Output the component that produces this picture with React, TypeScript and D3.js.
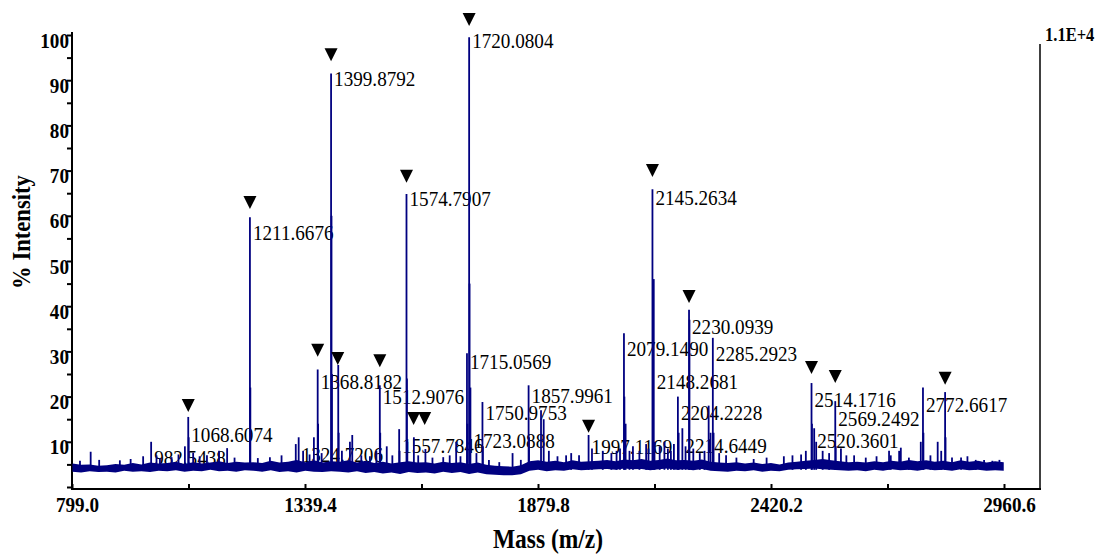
import React, { useEffect, useRef } from 'react';
import * as d3 from 'd3';

// spectrum peaks (m/z, % intensity)
const peakMass = [
  817.5, 842.3, 862, 910, 935, 964, 982.5438, 995, 1003, 1030, 1046, 1060.8, 1068.6074, 1069.6, 1080, 1095,
  1112, 1140, 1158.8, 1176, 1211.6676, 1212.67, 1230, 1258, 1285, 1318, 1324.7206, 1335, 1350, 1360,
  1368.8182, 1369.82, 1378, 1399.8792, 1400.88, 1401.88, 1416.5, 1417.5, 1425, 1443.6, 1449, 1470, 1490,
  1505, 1512.9076, 1513.91, 1529, 1542, 1557.7846, 1558.79, 1574.7907, 1575.79, 1576.79, 1591.9, 1602,
  1618.7, 1635, 1660, 1675, 1690, 1700, 1715.0569, 1716.06, 1720.0804, 1721.08, 1723.0888, 1737,
  1750.9753, 1752, 1766, 1790, 1820.8, 1840, 1857.9961, 1859, 1886.8, 1893, 1905, 1925, 1945, 1956.8,
  1975, 1997.1169, 2005, 2030, 2050, 2062, 2070, 2079.149, 2080.15, 2083, 2092, 2100, 2115, 2130.6, 2136,
  2145.2634, 2148.2681, 2150, 2162, 2173, 2181, 2188, 2195, 2204.2228, 2206, 2214.6449, 2222, 2230.0939,
  2231.1, 2240, 2255, 2266, 2275.6, 2280, 2285.2923, 2287, 2300, 2316, 2340, 2380, 2410, 2450, 2470, 2490,
  2501, 2514.1716, 2515.2, 2520.3601, 2525, 2540, 2555, 2569.2492, 2570.3, 2582.4, 2595, 2613, 2640,
  2665, 2694, 2698, 2717.4, 2721.3, 2740, 2767.6, 2772.6617, 2773.7, 2790, 2806.8, 2815, 2824, 2825,
  2840, 2861, 2875.8, 2895, 2914.4, 2933.6, 2950,
];
const peakInt = [
  5.8, 7.8, 6.0, 5.9, 6.2, 6.8, 10.0, 7.0, 6.4, 6.6, 7.2, 9.0, 15.5, 11.0, 7.6, 6.8,
  7.0, 8.0, 8.6, 6.5, 59.7, 22.0, 6.4, 6.6, 7.0, 9.5, 11.0, 8.0, 7.2, 11.0,
  26.0, 14.0, 7.5, 91.5, 60.0, 25.0, 27.0, 12.0, 8.0, 10.0, 11.5, 7.0, 6.8,
  8.0, 22.5, 12.0, 9.0, 7.0, 12.8, 8.0, 64.8, 24.0, 10.0, 11.0, 7.0,
  8.4, 6.5, 6.6, 7.0, 10.0, 6.8, 29.6, 14.0, 99.5, 45.0, 22.0, 7.5,
  18.8, 9.0, 6.0, 5.5, 7.5, 6.0, 22.5, 11.0, 17.0, 15.0, 8.0, 6.8, 7.0, 7.5,
  7.0, 11.5, 8.5, 8.0, 7.5, 8.0, 8.5, 34.0, 20.0, 14.0, 8.0, 9.0, 8.0, 9.5, 8.5,
  65.9, 46.0, 10.0, 9.0, 10.0, 8.5, 8.0, 9.5, 20.0, 12.0, 13.0, 9.0, 39.2,
  37.0, 8.5, 7.5, 8.0, 18.0, 12.0, 33.0, 12.0, 7.5, 7.0, 6.5, 6.2, 6.5, 6.8, 7.0, 7.2,
  8.0, 23.0, 14.0, 13.0, 10.0, 8.0, 7.5, 19.0, 9.0, 8.5, 7.0, 7.0, 6.5,
  6.8, 8.0, 7.0, 8.0, 8.7, 6.5, 10.0, 22.0, 12.0, 7.0, 10.0, 8.0, 21.0, 11.0,
  6.5, 6.5, 6.8, 6.0, 6.0, 5.8, 6.0,
];

// baseline noise band, every 20 m/z from 800 to 2960
const noiseStart = 800;
const noiseStep = 20;
const noiseHigh = [
  5.2, 4.9, 5.0, 4.7, 4.8, 5.1, 4.9, 5.3, 5.0, 5.4, 5.2,
  5.3, 5.6, 5.1, 5.5, 5.2, 5.4, 5.7, 5.3, 5.6, 5.4,
  5.5, 5.3, 5.8, 5.4, 5.6, 6.0, 5.5, 5.9, 5.4, 5.7,
  5.6, 5.9, 5.4, 5.8, 5.3, 5.6, 5.2, 5.5, 5.7, 5.4,
  5.5, 5.2, 5.6, 5.3, 5.5, 5.1, 5.4, 4.9, 4.7, 4.6,
  4.5, 4.8, 5.7, 5.9, 5.6, 5.8, 5.5, 5.9, 5.6, 5.7,
  5.8, 6.0, 5.7, 6.1, 5.9, 6.2, 5.8, 6.0, 6.3, 5.9,
  6.0, 5.8, 6.1, 5.6, 5.4, 5.3, 5.5, 5.2, 5.4, 5.1,
  5.3, 5.0, 5.4, 5.6, 5.8, 6.0, 6.2, 5.9, 5.7, 5.5,
  5.6, 5.4, 5.7, 5.5, 5.8, 5.6, 6.0, 5.7, 5.9, 5.6,
  5.8, 5.5, 5.9, 5.6, 5.8, 5.4, 5.7, 5.5,
];
const noiseLow = [
  3.4, 3.2, 3.5, 3.3, 3.4, 3.2, 3.6, 3.4, 3.5, 3.3, 3.6,
  3.5, 3.7, 3.4, 3.6, 3.5, 3.8, 3.5, 3.6, 3.4, 3.7,
  3.6, 3.4, 3.7, 3.3, 3.5, 3.2, 3.6, 3.4, 3.3, 3.5,
  3.4, 3.2, 3.5, 3.1, 3.3, 3.0, 3.2, 2.9, 3.3, 3.1,
  3.2, 3.0, 3.4, 3.1, 3.3, 2.9, 3.2, 2.8, 2.7, 2.6,
  2.6, 2.8, 3.6, 3.8, 3.5, 3.7, 3.6, 3.9, 3.7, 3.8,
  3.9, 4.0, 3.8, 4.1, 3.9, 4.0, 3.7, 3.9, 4.1, 3.8,
  3.9, 3.7, 4.0, 3.6, 3.5, 3.4, 3.6, 3.5, 3.7, 3.4,
  3.6, 3.5, 3.8, 3.9, 4.0, 4.1, 3.9, 3.8, 3.7, 3.6,
  3.7, 3.5, 3.8, 3.6, 3.9, 3.7, 3.8, 3.6, 3.9, 3.7,
  3.8, 3.6, 3.9, 3.7, 3.8, 3.6, 3.7, 3.6,
];

// annotated masses and the % level of their label baseline
const labelText = [
  '982.5438', '1068.6074', '1211.6676', '1324.7206', '1368.8182', '1399.8792', '1512.9076',
  '1557.7846', '1574.7907', '1715.0569', '1720.0804', '1723.0888', '1750.9753', '1857.9961',
  '1997.1169', '2079.1490', '2145.2634', '2148.2681', '2204.2228', '2214.6449', '2230.0939',
  '2285.2923', '2514.1716', '2520.3601', '2569.2492', '2772.6617',
];
const labelLevel = [
  4.9, 10.0, 54.6, 5.5, 21.7, 88.7, 18.4,
  7.5, 62.2, 26.1, 97.1, 8.6, 14.8, 18.6,
  7.3, 29.0, 62.4, 21.7, 14.8, 7.5, 33.8,
  27.9, 17.7, 8.6, 13.5, 16.6,
];

// triangle markers (m/z, % level of the triangle tip)
const markerMass = [
  1068.6, 1211.67, 1368.82, 1399.88, 1415.3, 1512.91, 1574.79, 1591.4, 1617,
  1720.08, 1997.12, 2145.26, 2230.09, 2514.17, 2569.25, 2824,
];
const markerLevel = [
  16.6, 61.5, 28.8, 94.2, 27.0, 26.5, 67.3, 13.7, 13.7,
  102, 12.0, 68.6, 40.7, 25.0, 23.0, 22.6,
];

const xTicks = [799.0, 1069.2, 1339.4, 1609.6, 1879.8, 2150.0, 2420.2, 2690.4, 2960.6];
const xTickLabels = [799.0, 1339.4, 1879.8, 2420.2, 2960.6];
const yTicks = d3.range(0, 101, 5);
const yTickLabels = d3.range(10, 101, 10);

const serif = '"Liberation Serif", "Times New Roman", serif';
const navy = '#000080';

export default function App() {
  const ref = useRef<SVGSVGElement>(null);

  useEffect(() => {
    const svg = d3.select(ref.current);
    svg.selectAll('*').remove();

    const x = d3.scaleLinear().domain([799.0, 2960.6]).range([72, 1004]);
    const y = d3.scaleLinear().domain([0, 100]).range([487, 35]);
    const axisY = 489;

    // y axis
    const gy = svg.append('g').attr('transform', 'translate(72,0)')
      .call(d3.axisLeft(y).tickValues(yTicks).tickSize(5).tickPadding(3)
        .tickFormat((d: any) => (yTickLabels.includes(d) ? String(d) : '')));
    gy.select('.domain').remove();
    gy.selectAll('line').attr('stroke', '#000').attr('stroke-width', 2);
    gy.selectAll('text')
      .attr('x', -3).attr('dy', '0.55em')
      .style('font-family', serif).style('font-size', '22px').style('font-weight', 'bold').attr('fill', '#000');

    // x axis
    const gx = svg.append('g').attr('transform', `translate(0,${axisY})`)
      .call(d3.axisBottom(x).tickValues(xTicks).tickSize(-5)
        .tickFormat((d: any) => (xTickLabels.includes(d) ? d3.format('.1f')(d) : '')));
    gx.select('.domain').remove();
    gx.selectAll('line').attr('stroke', '#000').attr('stroke-width', 2);
    gx.selectAll('text')
      .attr('x', 5).attr('y', 23).attr('dy', 0)
      .style('font-family', serif).style('font-size', '22px').style('font-weight', 'bold').attr('fill', '#000');

    // frame lines
    svg.append('line').attr('x1', 72).attr('x2', 72).attr('y1', 32).attr('y2', axisY + 1)
      .attr('stroke', '#000').attr('stroke-width', 2);
    svg.append('line').attr('x1', 71).attr('x2', 1041).attr('y1', axisY).attr('y2', axisY)
      .attr('stroke', '#000').attr('stroke-width', 2);
    svg.append('line').attr('x1', 1040).attr('x2', 1040).attr('y1', 44).attr('y2', axisY)
      .attr('stroke', '#000').attr('stroke-width', 1.5);

    // axis titles
    svg.append('text').attr('x', 548).attr('y', 548).attr('text-anchor', 'middle')
      .style('font-family', serif).style('font-size', '27px').style('font-weight', 'bold')
      .text('Mass (m/z)');
    svg.append('text').attr('transform', 'translate(30,232) rotate(-90)').attr('text-anchor', 'middle')
      .style('font-family', serif).style('font-size', '26px').style('font-weight', 'bold')
      .text('% Intensity');
    svg.append('text').attr('x', 1045).attr('y', 41)
      .style('font-family', serif).style('font-size', '19px').style('font-weight', 'bold')
      .text('1.1E+4');

    // peak labels
    svg.append('g').selectAll('text').data(labelText).enter().append('text')
      .attr('x', (d) => x(parseFloat(d)) + 3)
      .attr('y', (d, i) => y(labelLevel[i]))
      .style('font-family', serif).style('font-size', '22px').attr('fill', '#000')
      .text((d) => d);

    // noise band
    const noise = noiseHigh.map((h, i) => ({ m: noiseStart + i * noiseStep, h, l: noiseLow[i] }));
    svg.append('path').datum(noise)
      .attr('d', d3.area<any>().x((d) => x(d.m)).y0((d) => y(d.l)).y1((d) => y(d.h)))
      .attr('fill', navy);

    // peaks
    svg.append('g').selectAll('line').data(peakMass).enter().append('line')
      .attr('x1', (d) => x(d)).attr('x2', (d) => x(d))
      .attr('y1', y(3.8)).attr('y2', (d, i) => y(peakInt[i]))
      .attr('stroke', navy).attr('stroke-width', 1.8);

    // markers
    svg.append('g').selectAll('path').data(markerMass).enter().append('path')
      .attr('d', (d, i) => {
        const cx = x(d), tip = y(markerLevel[i]);
        return `M${cx - 6.5},${tip - 13}L${cx + 6.5},${tip - 13}L${cx},${tip}Z`;
      })
      .attr('fill', '#000');

    // the original type is horizontally condensed
    svg.selectAll<SVGTextElement, unknown>('text').each(function () {
      const w = this.getComputedTextLength();
      if (w > 0) {
        d3.select(this).attr('textLength', w * 0.87).attr('lengthAdjust', 'spacingAndGlyphs');
      }
    });
  }, []);

  return (
    <svg ref={ref} width={1106} height={554}
      style={{ position: 'absolute', left: 0, top: 0, background: '#fff' }} />
  );
}
